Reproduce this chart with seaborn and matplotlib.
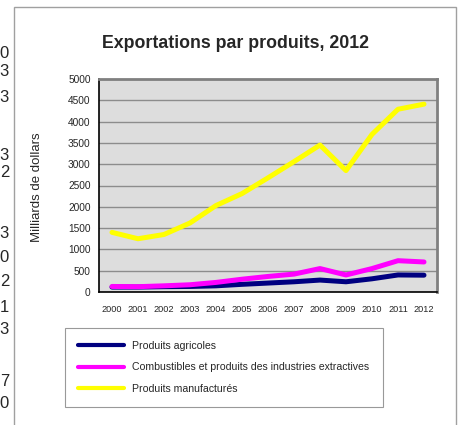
import pandas as pd
import seaborn as sns
import matplotlib.pyplot as plt
from matplotlib.ticker import FixedLocator

years = list(range(2000, 2013))
agricoles = [115, 115, 125, 130, 145, 180, 210, 240, 280, 240, 310, 400, 395]
combustibles = [130, 125, 145, 170, 225, 300, 365, 420, 550, 400, 550, 735, 705]
manufactures = [1400, 1250, 1350, 1620, 2030, 2310, 2680, 3060, 3450, 2850, 3700, 4290, 4410]
series_names = ['Produits agricoles',
                'Combustibles et produits des industries extractives',
                'Produits manufacturés']
colors = ['#000080', '#FF00FF', '#FFFF00']
# cut-off digits from the neighbouring table, left edge of the picture
edge_digits = ['0', '3', '3', '3', '2', '3', '0', '2', '1', '3', '7', '0']
edge_y = [53, 72, 98, 155, 173, 233, 257, 282, 307, 330, 382, 403]

df = pd.DataFrame({'Année': years * 3,
                   'Valeur': agricoles + combustibles + manufactures,
                   'Série': [series_names[0]] * 13 + [series_names[1]] * 13 + [series_names[2]] * 13})
df['x'] = df['Année'] - 2000

sns.set_style('white')
plt.rcParams['font.family'] = ['Liberation Sans', 'DejaVu Sans']

W, H = 465, 425
fig = plt.figure(figsize=(W / 100, H / 100), dpi=100)
ax = fig.add_axes([99 / W, 1 - 292 / H, 338 / W, 213 / H])
ax.set_facecolor('#DDDDDD')

sns.lineplot(data=df, x='x', y='Valeur', hue='Série', palette=colors,
             linewidth=3.6, ax=ax, legend=False)

ax.set_xlim(-0.5, 12.5)
ax.set_ylim(0, 5000)
ax.set_yticks(range(0, 5001, 500))
ax.set_xticks(range(13))
ax.set_xticklabels([str(y) for y in years], fontsize=6.6)
ax.tick_params(axis='x', length=0, pad=9)
ax.tick_params(axis='y', labelsize=7.3, length=3, direction='out', color='black', pad=3)
ax.xaxis.set_minor_locator(FixedLocator([i - 0.5 for i in range(14)]))
ax.tick_params(axis='x', which='minor', length=4, direction='out', color='black')
ax.yaxis.grid(True, color='#8C8C8C', linewidth=1)
ax.set_axisbelow(True)
ax.set_xlabel('')
ax.set_ylabel('')
for side in ['left', 'bottom']:
    ax.spines[side].set_color('black')
    ax.spines[side].set_linewidth(1.2)
for side in ['top', 'right']:
    ax.spines[side].set_color('#808080')
    ax.spines[side].set_linewidth(2)

fig.text(37 / W, 1 - 187 / H, 'Milliards de dollars', rotation=90,
         ha='center', va='center', fontsize=9.5)
fig.text(235 / W, 1 - 43 / H, 'Exportations par produits, 2012',
         ha='center', va='center', fontsize=12.8, fontweight='bold')

# outer chart frame
frame = plt.Rectangle((14 / W, -0.05), (456 - 14) / W, 1.05 - 7 / H,
                      transform=fig.transFigure, fill=False,
                      edgecolor='#A0A0A0', linewidth=1)
fig.patches.append(frame)

for d, y in zip(edge_digits, edge_y):
    fig.text(9 / W, 1 - y / H, d, ha='right', va='center', fontsize=12)

handles = [plt.Line2D([], [], color=c, linewidth=3) for c in colors]
leg = fig.legend(handles, series_names, loc='center',
                 bbox_to_anchor=(60 / W, 1 - 407 / H, 328 / W, 79 / H),
                 mode='expand', fontsize=7.6, frameon=True, fancybox=False,
                 edgecolor='#808080', handlelength=4.4, labelspacing=1.1,
                 borderpad=1.2, handletextpad=0.7)
leg.get_frame().set_linewidth(0.8)

fig.savefig('out.png', dpi=100)
